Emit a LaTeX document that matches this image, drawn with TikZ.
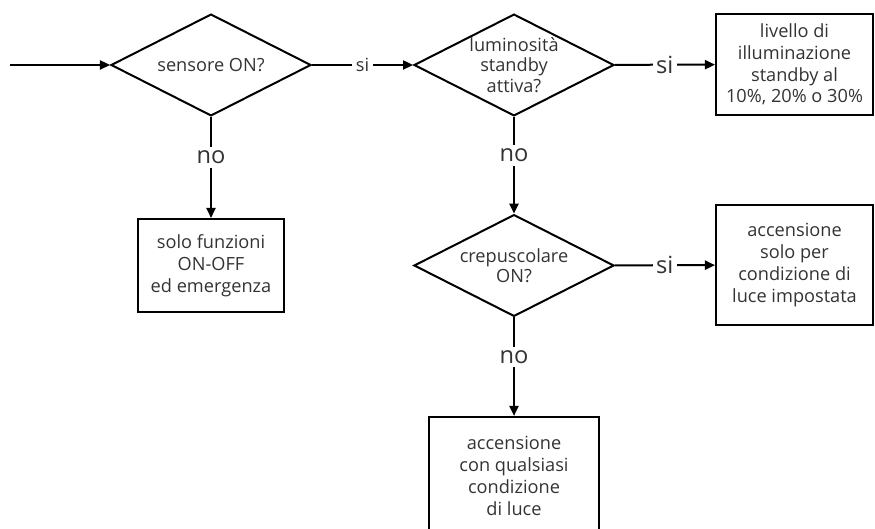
\documentclass[tikz,border=0pt]{standalone}
\usepackage{fontspec}
\setmainfont{Open Sans}
\usetikzlibrary{arrows.meta,shapes.geometric}
\definecolor{txtgray}{HTML}{333333}

\begin{document}
\begin{tikzpicture}[x=0.55pt,y=-0.55pt,font=\fontsize{10}{12}\selectfont,
  dec/.style={diamond,draw,line width=1.1pt,aspect=2,inner sep=0pt,align=center,text=txtgray,font=\fontsize{10}{11.2}\selectfont,minimum width=110pt,minimum height=56pt},
  box/.style={rectangle,draw,line width=1.1pt,inner sep=0pt,align=center,text=txtgray},
  lbl/.style={fill=white,inner sep=2pt,text=txtgray,font=\fontsize{13}{15}\selectfont},
  flow/.style={-{Triangle[length=5.5pt,width=5pt]},line width=1.1pt}]
  \clip (0,0) rectangle (875,529);
  % --- horni rada: senzor a standby ---
  \coordinate (in) at (10,65);
  \node[dec] (d1) at (211,65) {sensore ON?};
  \node[dec] (d2) at (514,65) {luminosità\\standby\\attiva?};
  \node[box,minimum width=86.4pt,minimum height=55.6pt] (b1) at (794.5,64.5) {livello di\\illuminazione\\standby al\\10\%, 20\% o 30\%};
  \draw[flow] (in) -- (d1);
  \draw[flow] (d1) -- node[lbl,font=\fontsize{10}{12}\selectfont] {si} (d2);
  \draw[flow] (d2) -- node[lbl] {si} (b1);
  % --- vetev "no" pod senzorem ---
  \node[box,minimum width=80.3pt,minimum height=51.2pt] (b2) at (211,265.5) {solo funzioni\\ON-OFF\\ed emergenza};
  \draw[flow] (d1) -- node[lbl,pos=0.4] {no} (b2);
  % --- crepuscolare ---
  \node[dec] (d3) at (514,265.5) {crepuscolare\\ON?};
  \node[box,minimum width=86.4pt,minimum height=66pt] (b3) at (794.5,265) {accensione\\solo per\\condizione di\\luce impostata};
  \node[box,minimum width=94pt,minimum height=65pt] (b4) at (514,476) {accensione\\con qualsiasi\\condizione\\di luce};
  \draw[flow] (d2) -- node[lbl,pos=0.4] {no} (d3);
  \draw[flow] (d3) -- node[lbl] {si} (b3);
  \draw[flow] (d3) -- node[lbl,pos=0.4] {no} (b4);
\end{tikzpicture}
\end{document}
